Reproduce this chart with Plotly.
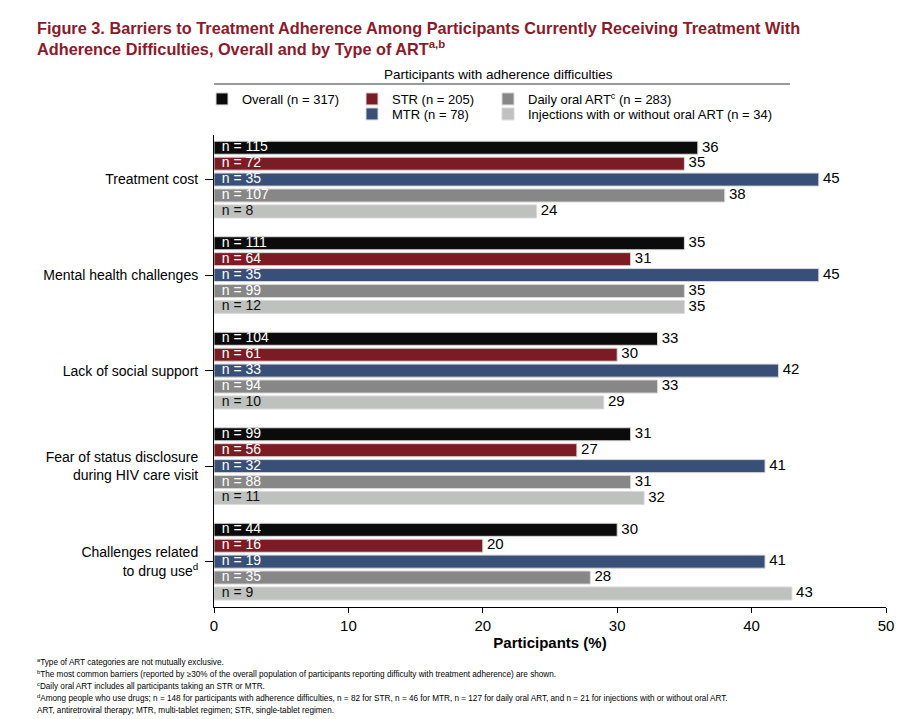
import plotly.graph_objects as go

# barriers (y categories), top to bottom
barriers = [
    "Treatment cost",
    "Mental health challenges",
    "Lack of social support",
    "Fear of status disclosure<br>during HIV care visit",
    "Challenges related<br>to drug use<sup>d</sup>",
]

# series shown inside every group, top to bottom
series_names = [
    "Overall (n = 317)",
    "STR (n = 205)",
    "MTR (n = 78)",
    "Daily oral ART<sup>c</sup> (n = 283)",
    "Injections with or without oral ART (n = 34)",
]
series_colors = ["#0b0b0b", "#7b1c25", "#385077", "#878787", "#bfc1be"]
inner_text_colors = ["white", "white", "white", "white", "#111111"]

# participants (%) per barrier
pct_overall = [36, 35, 33, 31, 30]
pct_str = [35, 31, 30, 27, 20]
pct_mtr = [45, 45, 42, 41, 41]
pct_daily = [38, 35, 33, 31, 28]
pct_inj = [24, 35, 29, 32, 43]

# n per barrier
n_overall = [115, 111, 104, 99, 44]
n_str = [72, 64, 61, 56, 16]
n_mtr = [35, 35, 33, 32, 19]
n_daily = [107, 99, 94, 88, 35]
n_inj = [8, 12, 10, 11, 9]

x_ticks = [0, 10, 20, 30, 40, 50]

footnotes = [
    "<sup>a</sup>Type of ART categories are not mutually exclusive.",
    "<sup>b</sup>The most common barriers (reported by ≥30% of the overall population of participants reporting difficulty with treatment adherence) are shown.",
    "<sup>c</sup>Daily oral ART includes all participants taking an STR or MTR.",
    "<sup>d</sup>Among people who use drugs; n = 148 for participants with adherence difficulties, n = 82 for STR, n = 46 for MTR, n = 127 for daily oral ART, and n = 21 for injections with or without oral ART.",
    "ART, antiretroviral therapy; MTR, multi-tablet regimen; STR, single-tablet regimen.",
]

pct_all = [pct_overall, pct_str, pct_mtr, pct_daily, pct_inj]
n_all = [n_overall, n_str, n_mtr, n_daily, n_inj]

FONT = "Liberation Sans, Arial, Helvetica, sans-serif"
GROUP = 6  # slots per barrier (5 bars + gap)
NB = "\u00a0"

# the page body adds an 8px margin, so the figure is made 8px smaller
OFF = 8
W, H = 920 - OFF, 719 - OFF
# plot area in figure pixels (left, top, width, height)
PL, PT, PW, PH = 214 - OFF, 135 - OFF, 672, 472


def px_x(x):
    # x in screen pixels -> paper coords
    return (x - OFF - PL) / PW


def px_y(y):
    return 1 - (y - OFF - PT) / PH


# legend slots: (left px of legend box, row centre px)
legend_slots = [(202, 99), (352, 99), (352, 114), (488, 99), (488, 114)]
legend_ids = ["legend", "legend2", "legend3", "legend4", "legend5"]

fig = go.Figure()

for si, name in enumerate(series_names):
    ypos = [ci * GROUP + si for ci in range(len(barriers))]
    fig.add_trace(
        go.Bar(
            x=pct_all[si],
            y=ypos,
            orientation="h",
            name=name,
            width=0.82,
            marker=dict(color=series_colors[si], line=dict(color="#d9d9d9", width=1)),
            legend=legend_ids[si],
            hoverinfo="x",
        )
    )
    # n = ... inside the bar
    fig.add_trace(
        go.Scatter(
            x=[0] * len(ypos),
            y=ypos,
            mode="text",
            text=[NB + NB + "n = %d" % v for v in n_all[si]],
            textposition="middle right",
            textfont=dict(family=FONT, size=14, color=inner_text_colors[si]),
            showlegend=False,
            hoverinfo="skip",
            cliponaxis=False,
        )
    )
    # value label at the end of the bar
    fig.add_trace(
        go.Scatter(
            x=pct_all[si],
            y=ypos,
            mode="text",
            text=[NB + str(v) for v in pct_all[si]],
            textposition="middle right",
            textfont=dict(family=FONT, size=15, color="black"),
            showlegend=False,
            hoverinfo="skip",
            cliponaxis=False,
        )
    )

legend_common = dict(
    orientation="v",
    yanchor="middle",
    xanchor="left",
    font=dict(family=FONT, size=13, color="black"),
    bgcolor="rgba(0,0,0,0)",
    itemclick=False,
)
legends = {}
for lid, (lx, ly) in zip(legend_ids, legend_slots):
    legends[lid] = dict(legend_common, x=px_x(lx), y=px_y(ly))

fig.update_layout(
    width=W,
    height=H,
    paper_bgcolor="white",
    plot_bgcolor="white",
    barmode="overlay",
    font=dict(family=FONT, color="black"),
    margin=dict(l=PL, r=W - PL - PW, t=PT, b=H - PT - PH, autoexpand=False),
    xaxis=dict(
        range=[0, 50],
        tickvals=x_ticks,
        ticks="outside",
        ticklen=5,
        tickcolor="black",
        showline=True,
        linecolor="black",
        linewidth=1,
        showgrid=False,
        zeroline=False,
        tickfont=dict(family=FONT, size=15, color="black"),
        title=dict(
            text="Participants (%)",
            font=dict(family=FONT, size=15, color="black", weight="bold"),
            standoff=4,
        ),
    ),
    yaxis=dict(
        range=[28.85, -0.8],
        tickvals=[ci * GROUP + 2 for ci in range(len(barriers))],
        ticktext=barriers,
        ticks="outside",
        ticklen=8,
        tickcolor="black",
        ticklabelstandoff=4,
        showline=True,
        linecolor="black",
        linewidth=1,
        showgrid=False,
        zeroline=False,
        tickfont=dict(family=FONT, size=14, color="black"),
    ),
    **legends,
)

# title
fig.add_annotation(
    text="Figure 3. Barriers to Treatment Adherence Among Participants Currently Receiving Treatment With<br>"
    "Adherence Difficulties, Overall and by Type of ART<sup>a,b</sup>",
    xref="paper",
    yref="paper",
    x=px_x(35),
    y=px_y(38),
    xanchor="left",
    yanchor="middle",
    align="left",
    showarrow=False,
    font=dict(family=FONT, size=16.3, color="#8b1a2a", weight="bold"),
)

# legend header with rule underneath
fig.add_annotation(
    text="Participants with adherence difficulties",
    xref="paper",
    yref="paper",
    x=px_x(498),
    y=px_y(75),
    xanchor="center",
    yanchor="middle",
    showarrow=False,
    font=dict(family=FONT, size=13.5, color="black"),
)
fig.add_shape(
    type="line",
    xref="paper",
    yref="paper",
    x0=0,
    x1=px_x(790),
    y0=px_y(84),
    y1=px_y(84),
    line=dict(color="#777777", width=1.5),
)

# footnotes
for i, note in enumerate(footnotes):
    fig.add_annotation(
        text=note,
        xref="paper",
        yref="paper",
        x=px_x(35),
        y=px_y(662 + 12 * i),
        xanchor="left",
        yanchor="middle",
        showarrow=False,
        font=dict(family=FONT, size=8.2, color="black"),
    )

fig.write_html("out.html")
